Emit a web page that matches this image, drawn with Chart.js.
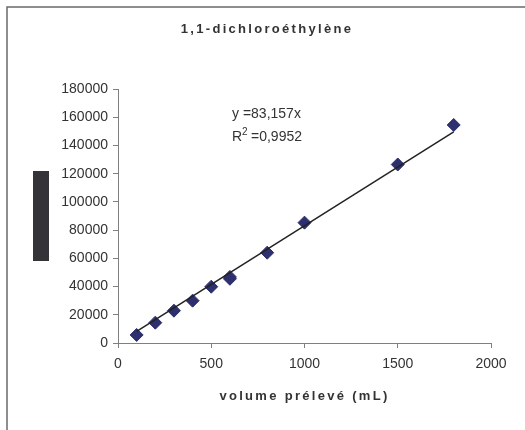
<!DOCTYPE html>
<html>
<head>
<meta charset="utf-8">
<script src="https://cdn.jsdelivr.net/npm/chart.js@4.4.0/dist/chart.umd.min.js"></script>
<style>
  html, body { margin: 0; padding: 0; background: #fff; }
  canvas { display: block; }
</style>
</head>
<body>
<canvas id="chart" width="525" height="430"></canvas>
<script>
// measured samples: volume drawn (mL) vs detector response
const volumes = [100, 200, 300, 400, 500, 600, 600, 800, 1000, 1500, 1800];
const responses = [5700, 14400, 22900, 30000, 39900, 45500, 46800, 64000, 85300, 126500, 154500];

// linear fit through the origin
const slope = 83.157;
const r2 = '0,9952';
const fitRange = [100, 1800];

const xTicks = [0, 500, 1000, 1500, 2000];
const yTicks = [0, 20000, 40000, 60000, 80000, 100000, 120000, 140000, 160000, 180000];

const chartTitle = '1,1-dichloroéthylène';
const xTitle = 'volume prélevé (mL)';

const FONT = "'Liberation Sans', Arial, sans-serif";
Chart.defaults.font.family = FONT;

const points = volumes.map((v, i) => ({ x: v, y: responses[i] }));
const fitLine = fitRange.map(v => ({ x: v, y: slope * v }));

// frame, masked block, spaced titles and the equation text
const decorations = {
  id: 'decorations',
  beforeDraw(chart) {
    const ctx = chart.ctx;
    ctx.save();
    ctx.fillStyle = '#fff';
    ctx.fillRect(0, 0, chart.width, chart.height);
    ctx.strokeStyle = '#6a6a6a';
    ctx.lineWidth = 1.5;
    ctx.strokeRect(7, 7, chart.width + 20, chart.height + 20);
    ctx.restore();
  },
  afterDraw(chart) {
    const ctx = chart.ctx;
    const area = chart.chartArea;
    ctx.save();

    ctx.fillStyle = '#333338';
    ctx.fillRect(33, 171, 16, 90);

    ctx.fillStyle = '#333';
    ctx.textAlign = 'center';
    ctx.textBaseline = 'middle';
    ctx.font = 'bold 13px ' + FONT;
    ctx.letterSpacing = '2.3px';
    ctx.fillText(chartTitle, 267, 29);

    ctx.letterSpacing = '2.3px';
    ctx.fillText(xTitle, (area.left + area.right) / 2, 396);

    // equation of the fit
    const tx = area.left + 114;
    ctx.letterSpacing = '0px';
    ctx.textAlign = 'left';
    ctx.font = '14px ' + FONT;
    ctx.fillText('y =' + String(slope).replace('.', ',') + 'x', tx, 114);
    ctx.fillText('R', tx, 137);
    const rw = ctx.measureText('R').width;
    ctx.font = '10px ' + FONT;
    ctx.fillText('2', tx + rw, 132);
    ctx.font = '14px ' + FONT;
    ctx.fillText(' =' + r2, tx + rw + 5, 137);

    ctx.restore();
  }
};

new Chart(document.getElementById('chart'), {
  type: 'scatter',
  data: {
    datasets: [
      {
        type: 'line',
        label: 'fit',
        data: fitLine,
        borderColor: '#222',
        borderWidth: 1.5,
        pointRadius: 0,
        fill: false
      },
      {
        label: 'samples',
        data: points,
        pointStyle: 'rectRot',
        pointRadius: 6.5,
        pointHoverRadius: 6.5,
        backgroundColor: '#2d2f6e',
        borderColor: '#2d2f6e',
        borderWidth: 1
      }
    ]
  },
  options: {
    responsive: false,
    animation: false,
    layout: { padding: { left: 0, top: 89, right: 34, bottom: 0 } },
    plugins: {
      legend: { display: false },
      title: { display: false },
      tooltip: { enabled: false }
    },
    scales: {
      x: {
        type: 'linear',
        min: 0,
        max: 2000,
        afterBuildTicks: s => { s.ticks = xTicks.map(v => ({ value: v })); },
        afterFit: s => { s.height = 87; },
        grid: { drawOnChartArea: false, drawTicks: true, tickLength: 5, color: '#808080' },
        border: { color: '#808080', width: 1 },
        ticks: { color: '#333', font: { size: 14 }, padding: 8, maxRotation: 0, callback: v => String(v) }
      },
      y: {
        min: 0,
        max: 180000,
        afterBuildTicks: s => { s.ticks = yTicks.map(v => ({ value: v })); },
        afterFit: s => { s.width = 118; },
        grid: { drawOnChartArea: false, drawTicks: true, tickLength: 5, color: '#808080' },
        border: { color: '#808080', width: 1 },
        ticks: { color: '#333', font: { size: 14 }, padding: 5, callback: v => String(v) }
      }
    }
  },
  plugins: [decorations]
});
</script>
</body>
</html>
